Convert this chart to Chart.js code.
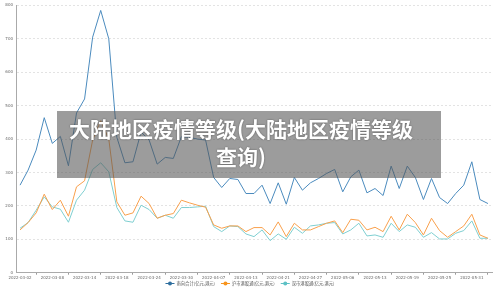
<!DOCTYPE html>
<html><head><meta charset="utf-8">
<script src="https://cdn.jsdelivr.net/npm/chart.js@4.4.0/dist/chart.umd.min.js"></script>
<style>
html,body{margin:0;padding:0;background:#fff;}
#wrap{position:relative;width:500px;height:289px;}
#c{position:absolute;left:0;top:0;}
#ttl{position:absolute;left:57px;top:111px;width:384px;height:67px;background:rgba(85,85,85,0.58);
 box-sizing:border-box;padding:3px 18px 0 2px;text-align:center;color:#fff;font-family:"Noto Sans CJK SC","Noto Sans",sans-serif;
 font-weight:bold;font-size:21px;line-height:28px;white-space:nowrap;text-shadow:0 0 2px rgba(0,0,0,0.45);}
</style></head>
<body><div id="wrap"><canvas id="c" width="500" height="289"></canvas>
<div id="ttl">大陆地区疫情等级(大陆地区疫情等级<br>查询)</div></div>
<script>
const categories = ["2022-03-02","2022-03-03","2022-03-04","2022-03-07","2022-03-08","2022-03-09","2022-03-10","2022-03-11","2022-03-14","2022-03-15","2022-03-16","2022-03-17","2022-03-18","2022-03-21","2022-03-22","2022-03-23","2022-03-24","2022-03-25","2022-03-28","2022-03-29","2022-03-30","2022-03-31","2022-04-01","2022-04-06","2022-04-07","2022-04-08","2022-04-11","2022-04-12","2022-04-13","2022-04-14","2022-04-19","2022-04-20","2022-04-21","2022-04-22","2022-04-25","2022-04-26","2022-04-27","2022-04-28","2022-04-29","2022-05-05","2022-05-06","2022-05-10","2022-05-11","2022-05-12","2022-05-13","2022-05-16","2022-05-17","2022-05-18","2022-05-19","2022-05-20","2022-05-23","2022-05-24","2022-05-25","2022-05-26","2022-05-27","2022-05-30","2022-05-31","2022-06-01","2022-06-02"];
const southTotal = [262,307,367,464,387,408,320,478,520,705,785,700,405,329,332,421,397,325,345,342,407,405,400,397,285,255,282,279,237,237,262,207,269,205,285,247,269,282,297,309,242,287,307,239,252,231,319,252,319,285,219,282,225,207,237,262,332,219,207];
const shConnect = [128,150,179,235,189,217,169,257,275,397,455,400,212,172,179,229,207,163,172,177,217,209,202,196,143,133,140,140,123,135,135,113,152,108,148,128,128,138,148,155,120,160,157,128,136,123,169,128,175,150,113,163,126,106,123,140,175,113,103];
const szConnect = [133,150,187,227,197,190,151,217,247,309,329,302,195,155,151,202,189,163,172,163,195,195,197,199,138,123,140,138,116,108,128,96,116,100,136,118,140,143,148,150,116,128,148,110,113,106,148,123,143,136,106,120,101,101,118,126,155,103,103];
const seriesNames = ["南向合计(亿元,港元)","沪市港股通(亿元,港元)","深市港股通(亿元,港元)"];
const yTicks = [0,100,200,300,400,500,600,700,800];

const lineColors = ["#4b8bbe","#f9a04c","#7fcfd1"];
const markColors = ["#2f6f9f","#f7941d","#5cc1c5"];

const legendPlugin = {
  id:'customLegend',
  afterDraw(chart){
    const ctx = chart.ctx;
    ctx.save();
    ctx.font = '4.3px "Noto Sans CJK SC", sans-serif';
    const iconW = 9, gap1 = 2, gap2 = 6;
    const widths = seriesNames.map(n=>ctx.measureText(n).width);
    let total = widths.reduce((a,b)=>a+b,0) + seriesNames.length*(iconW+gap1) + gap2*(seriesNames.length-1);
    let x = 250 - total/2;
    const y = 283.5;
    seriesNames.forEach((n,i)=>{
      ctx.strokeStyle = markColors[i]; ctx.lineWidth = 1;
      ctx.beginPath(); ctx.moveTo(x,y); ctx.lineTo(x+iconW,y); ctx.stroke();
      ctx.fillStyle = markColors[i];
      ctx.beginPath(); ctx.arc(x+iconW/2,y,2,0,Math.PI*2); ctx.fill();
      x += iconW+gap1;
      ctx.fillStyle = '#555'; ctx.textBaseline='middle'; ctx.textAlign='left';
      ctx.fillText(n,x,y);
      x += widths[i]+gap2;
    });
    ctx.restore();
  }
};

const mk = (i,data)=>({label:seriesNames[i],data,borderColor:lineColors[i],backgroundColor:lineColors[i],borderWidth:1,pointRadius:0,tension:0,fill:false});

new Chart(document.getElementById('c'),{
  type:'line',
  data:{labels:categories,datasets:[mk(0,southTotal),mk(1,shConnect),mk(2,szConnect)]},
  options:{
    responsive:false,animation:false,
    layout:{padding:{top:5,right:8,bottom:9,left:0}},
    plugins:{legend:{display:false},tooltip:{enabled:false}},
    scales:{
      x:{offset:true,
        grid:{offset:false,drawOnChartArea:false,tickLength:2,color:(c)=> (c.index%4===2 ? '#999' : 'rgba(0,0,0,0)')},
        border:{color:'#aaa',width:1},
        ticks:{autoSkip:false,maxRotation:0,minRotation:0,padding:0.5,color:'#666',font:{size:4,family:'"DejaVu Sans", sans-serif'},
          callback:function(v,i){return i%4===0 ? categories[i] : '';}},
        afterFit:(s)=>{s.height=7.3;}
      },
      y:{min:0,max:800,
        afterBuildTicks:(s)=>{s.ticks=yTicks.map(v=>({value:v}));},
        grid:{color:'#e3e3e3',drawTicks:false},
        border:{color:'#aaa',width:1,dash:[2,2]},
        ticks:{padding:3,color:'#666',font:{size:4,family:'"DejaVu Sans", sans-serif'}},
        afterFit:(s)=>{s.width=16;}
      }
    }
  },
  plugins:[legendPlugin]
});
</script></body></html>
